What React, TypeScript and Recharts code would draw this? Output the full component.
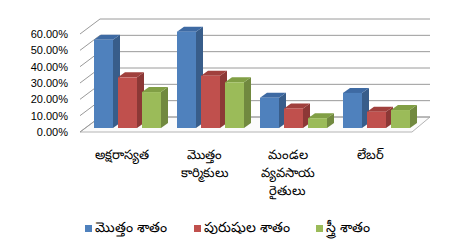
import { BarChart, Bar, XAxis, YAxis, CartesianGrid, Legend } from "recharts";

// categories and series (percent values)
const categories = [
  "అక్షరాస్యత",
  "మొత్తం కార్మికులు",
  "మండల వ్యవసాయ రైతులు",
  "లేబర్",
];
const totalPct = [54, 59, 18.5, 21.5];
const malePct = [31, 32, 12, 10];
const femalePct = [22, 28, 6, 11];
const seriesLabels = ["మొత్తం శాతం", "పురుషుల శాతం", "స్త్రీ శాతం"];
const yTicks = [0, 10, 20, 30, 40, 50, 60];

const data = categories.map((name, i) => ({
  name,
  total: totalPct[i],
  male: malePct[i],
  female: femalePct[i],
}));

// 3d look
const WALL_DX = 20;
const WALL_DY = 15;
const BAR_SHIFT_X = 6;
const BAR_SHIFT_Y = 4;
const BAR_DX = 7;
const BAR_DY = 5;
const PLOT_BOTTOM = 132;
const LEGEND_ITEM_W = [109, 122, 80];

function Box3D(props: any) {
  const { x, y, width, height, fill, side, top } = props;
  if (height == null || isNaN(height)) return null;
  const fx = x + BAR_SHIFT_X;
  const fy = y - BAR_SHIFT_Y;
  const r = fx + width;
  return (
    <g>
      <polygon
        points={`${r},${fy} ${r + BAR_DX},${fy - BAR_DY} ${r + BAR_DX},${fy + height - BAR_DY} ${r},${fy + height}`}
        fill={side}
      />
      <polygon
        points={`${fx},${fy} ${fx + BAR_DX},${fy - BAR_DY} ${r + BAR_DX},${fy - BAR_DY} ${r},${fy}`}
        fill={top}
      />
      <rect x={fx} y={fy} width={width} height={height} fill={fill} />
    </g>
  );
}

const gridLine = (p: any) => {
  const { x1, x2, y1 } = p;
  const by = y1 - WALL_DY;
  const floor = Math.abs(y1 - PLOT_BOTTOM) < 1.5;
  return (
    <g key={p.key ?? `g-${y1}`}>
      {floor && (
        <polygon
          points={`${x1},${y1} ${x1 + WALL_DX},${by} ${x2 + WALL_DX - 2},${by} ${x2},${y1}`}
          fill="#fbfbfb"
          stroke="#b4b4b4"
          strokeWidth={1}
        />
      )}
      <line x1={x1} y1={y1} x2={x1 + WALL_DX} y2={by} stroke="#9a9a9a" />
      <line x1={x1 + WALL_DX} y1={by} x2={x2 + WALL_DX - 2} y2={by} stroke="#9a9a9a" />
    </g>
  );
};

function CategoryTick(props: any) {
  const { x, y, payload } = props;
  const words = String(payload.value).split(" ");
  return (
    <text x={x} y={y} textAnchor="middle" fontSize={13} fill="#000">
      {words.map((w, i) => (
        <tspan key={i} x={x} dy={i === 0 ? 27 : 18}>
          {w}
        </tspan>
      ))}
    </text>
  );
}

function LegendRow(props: any) {
  const items = props.payload || [];
  return (
    <div
      style={{
        display: "flex",
        alignItems: "center",
        paddingLeft: 85,
        height: 20,
        fontSize: 14,
        color: "#000",
      }}
    >
      {items.map((it: any, i: number) => (
        <div
          key={it.value}
          style={{ display: "flex", alignItems: "center", width: LEGEND_ITEM_W[i], whiteSpace: "nowrap" }}
        >
          <span
            style={{
              display: "inline-block",
              width: 7,
              height: 7,
              background: it.color,
              marginRight: 3,
            }}
          />
          <span>{it.value}</span>
        </div>
      ))}
    </div>
  );
}

export default function App() {
  return (
    <div
      style={{
        position: "absolute",
        left: 0,
        top: 0,
        width: 457,
        height: 243,
        background: "#fff",
        fontFamily: "'Noto Sans', 'Liberation Sans', sans-serif",
      }}
    >
      <BarChart
        width={457}
        height={243}
        data={data}
        margin={{ top: 34, right: 45, left: 0, bottom: 5 }}
        barCategoryGap={8}
        barGap={5}
      >
        <CartesianGrid vertical={false} horizontal={gridLine} />
        <XAxis
          dataKey="name"
          height={86}
          axisLine={false}
          tickLine={false}
          tickSize={0}
          tickMargin={0}
          interval={0}
          tick={<CategoryTick />}
        />
        <YAxis
          width={80}
          domain={[0, 60]}
          ticks={yTicks}
          interval={0}
          axisLine={false}
          tickLine={false}
          tickSize={0}
          tickMargin={12}
          tick={{ fontSize: 11, fill: "#000", fontFamily: "'Liberation Sans', sans-serif" }}
          tickFormatter={(v: number) => `${v.toFixed(2)}%`}
        />
        <Legend
          verticalAlign="bottom"
          width={457}
          height={20}
          wrapperStyle={{ left: 0 }}
          itemSorter={(item: any) => seriesLabels.indexOf(item.value)}
          content={<LegendRow />}
        />
        <Bar
          dataKey="total"
          name={seriesLabels[0]}
          fill="#4F81BD"
          barSize={19}
          isAnimationActive={false}
          shape={(p: any) => <Box3D {...p} side="#385D8A" top="#3E6AA3" />}
        />
        <Bar
          dataKey="male"
          name={seriesLabels[1]}
          fill="#C0504D"
          barSize={19}
          isAnimationActive={false}
          shape={(p: any) => <Box3D {...p} side="#8C3836" top="#A0403D" />}
        />
        <Bar
          dataKey="female"
          name={seriesLabels[2]}
          fill="#9BBB59"
          barSize={19}
          isAnimationActive={false}
          shape={(p: any) => <Box3D {...p} side="#71893F" top="#819F45" />}
        />
      </BarChart>
    </div>
  );
}
